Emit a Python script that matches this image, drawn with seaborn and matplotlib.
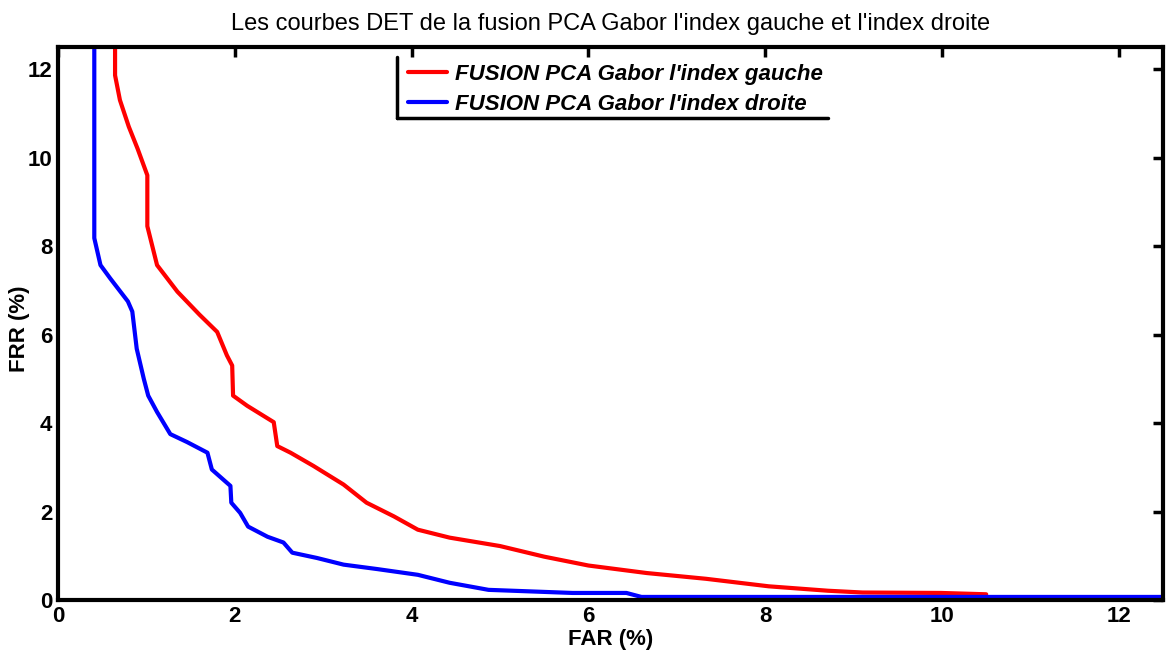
import matplotlib
matplotlib.use("Agg")
import matplotlib.pyplot as plt
import seaborn as sns
import pandas as pd
from matplotlib.lines import Line2D

# ---- data ----
far_gauche = [0.645, 0.645, 0.70, 0.80, 0.90, 1.01, 1.01, 1.12, 1.35, 1.60, 1.80, 1.91, 1.97, 1.98,
              2.14, 2.44, 2.48, 2.63, 2.89, 3.23, 3.49, 3.80, 4.07, 4.43, 5.00, 5.50, 6.00, 6.66,
              7.33, 8.04, 8.71, 9.10, 9.99, 10.50]
frr_gauche = [12.6, 11.86, 11.3, 10.7, 10.2, 9.6, 8.45, 7.57, 6.97, 6.45, 6.06, 5.53, 5.30, 4.62,
              4.39, 4.02, 3.48, 3.33, 3.03, 2.61, 2.20, 1.89, 1.59, 1.41, 1.22, 0.98, 0.78, 0.61,
              0.48, 0.31, 0.21, 0.17, 0.16, 0.13]

far_droite = [0.41, 0.41, 0.48, 0.59, 0.79, 0.84, 0.89, 0.97, 1.02, 1.12, 1.27, 1.46, 1.69, 1.74,
              1.95, 1.96, 2.06, 2.15, 2.37, 2.55, 2.65, 2.93, 3.23, 3.61, 4.07, 4.43, 4.87, 5.82,
              6.43, 6.60, 12.6]
frr_droite = [12.6, 8.18, 7.57, 7.27, 6.75, 6.52, 5.68, 5.00, 4.62, 4.25, 3.75, 3.57, 3.33, 2.95,
              2.58, 2.20, 1.97, 1.66, 1.43, 1.30, 1.07, 0.95, 0.80, 0.70, 0.57, 0.39, 0.23, 0.16,
              0.16, 0.07, 0.07]

labels = ["FUSION PCA Gabor l'index gauche", "FUSION PCA Gabor l'index droite"]
colors = ["#ff0000", "#0000ff"]
title = "Les courbes DET de la fusion PCA Gabor l'index gauche et l'index droite"
xticks = [0, 2, 4, 6, 8, 10, 12]
yticks = [0, 2, 4, 6, 8, 10, 12]

df = pd.concat([
    pd.DataFrame({"FAR": far_gauche, "FRR": frr_gauche, "serie": labels[0]}),
    pd.DataFrame({"FAR": far_droite, "FRR": frr_droite, "serie": labels[1]}),
], ignore_index=True)

sns.set_theme(style="white")
plt.rcParams['font.family'] = ['Liberation Sans', 'DejaVu Sans']

fig = plt.figure(figsize=(11.68, 6.58), dpi=100)
ax = fig.add_axes([0.0497, 0.0881, 0.9460, 0.8405])

sns.lineplot(data=df, x="FAR", y="FRR", hue="serie", palette=colors, sort=False,
             estimator=None, linewidth=3, ax=ax, legend=False)

ax.set_xlim(0, 12.5)
ax.set_ylim(0, 12.5)
ax.set_xticks(xticks)
ax.set_yticks(yticks)
ax.tick_params(direction="in", length=7, width=2.5, top=True, right=True,
               labelsize=16, pad=4, colors="black")
for lab in ax.get_xticklabels() + ax.get_yticklabels():
    lab.set_fontweight("bold")
for s in ax.spines.values():
    s.set_visible(True)
    s.set_linewidth(3)
    s.set_color("black")

ax.set_xlabel("FAR (%)", fontsize=16, fontweight="bold", labelpad=2, color="black")
ax.set_ylabel("FRR (%)", fontsize=16, fontweight="bold", color="black")
ax.yaxis.set_label_coords(-0.025, 0.49)
ax.set_title(title, fontsize=17, pad=12, color="black")

handles = [Line2D([], [], color=c, linewidth=3) for c in colors]
leg = ax.legend(handles, labels, loc="upper left", bbox_to_anchor=(0.309, 0.985),
                frameon=False, borderaxespad=0, handlelength=1.75, handletextpad=0.35,
                labelspacing=0.4, labelcolor="black",
                prop={"size": 16, "style": "italic", "weight": "bold"})
# legend frame: left and bottom edges only, as in reference
ax.add_line(Line2D([0.307, 0.307], [0.982, 0.872], transform=ax.transAxes, color="black", linewidth=2.5))
ax.add_line(Line2D([0.307, 0.697], [0.872, 0.872], transform=ax.transAxes, color="black", linewidth=2.5))

fig.savefig("out.png", dpi=100, facecolor="white")
